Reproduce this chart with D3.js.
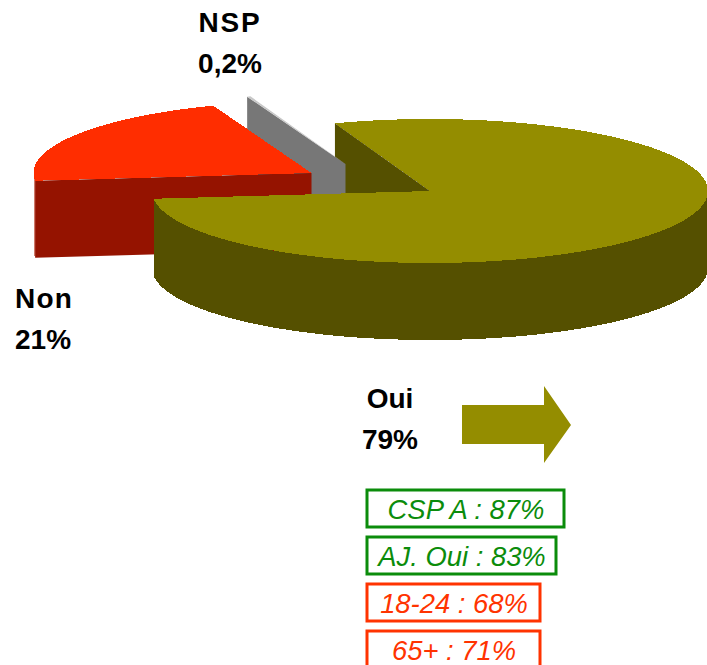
<!DOCTYPE html>
<html>
<head>
<meta charset="utf-8">
<script src="https://d3js.org/d3.v7.min.js"></script>
<style>
  body { margin: 0; background: #fff; overflow: hidden; }
  text { font-family: "Liberation Sans", Arial, sans-serif; }
</style>
</head>
<body>
<div id="chart"></div>
<script>
// data
var categories = ["Oui", "Non", "NSP"];
var shares = [79, 21, 0.2];
var shareLabels = ["79%", "21%", "0,2%"];
var detailLabels = ["CSP A : 87%", "AJ. Oui : 83%", "18-24 : 68%", "65+ : 71%"];
var detailKinds = ["up", "up", "down", "down"];

var width = 707, height = 665;

// pie layout
var rx = 278, ry = 72, depth = 77;
var toRad = Math.PI / 180;
var apex = {
  Oui: [430, 191],
  Non: [311.5, 173],
  NSP: [345.5, 164]
};
var topColor = { Oui: "#948d00", Non: "#ff2d00", NSP: "#c8c8c8" };
var sideColor = { Oui: "#555000", Non: "#951300", NSP: "#777777" };
var rimColor = { Oui: "#555000", Non: "#cf7a6a", NSP: "#777777" };
var labelPos = {
  Oui: { x: 390, y: 408, anchor: "middle", spacing: 0 },
  Non: { x: 15, y: 308, anchor: "start", spacing: 1.2 },
  NSP: { x: 230, y: 32, anchor: "middle", spacing: 1.8 }
};
var detailColor = { up: "#0b8c0b", down: "#ff3300" };
var detailWidths = [197, 189, 173, 173];

var svg = d3.select("#chart")
  .append("svg")
    .attr("width", width)
    .attr("height", height)
    .style("display", "block");

var slices = d3.pie()
  .sort(null)
  .value(function (d, i) { return shares[i]; })
  .startAngle(-20 * toRad)
  .endAngle(340 * toRad)(categories);

// angle on the pie -> point on the tilted ellipse
function rimPoint(name, a, dy) {
  return [apex[name][0] + rx * Math.sin(a), apex[name][1] - ry * Math.cos(a) + (dy || 0)];
}
function rimArc(name, a0, a1, dy) {
  var n = Math.max(2, Math.ceil(Math.abs(a1 - a0) / (toRad / 2)));
  return d3.range(n + 1).map(function (i) {
    return rimPoint(name, a0 + (a1 - a0) * i / n, dy);
  });
}
var line = d3.line();
function closed(points) { return line(points) + "Z"; }

function drawInnerWall(s) {
  var name = s.data, p = apex[name], r = rimPoint(name, s.startAngle);
  svg.append("path")
    .attr("d", closed([r, p, [p[0], p[1] + depth], [r[0], r[1] + depth]]))
    .attr("fill", sideColor[name]);
}
function drawOuterWall(s, color) {
  var name = s.data;
  // only the front half of the rim can be seen
  var a0 = Math.max(s.startAngle, 90 * toRad), a1 = Math.min(s.endAngle, 270 * toRad);
  if (a1 <= a0) return;
  svg.append("path")
    .attr("d", closed(rimArc(name, a0, a1).concat(rimArc(name, a1, a0, depth))))
    .attr("fill", color)
    .attr("shape-rendering", "crispEdges");
}
function drawTop(s) {
  var name = s.data;
  svg.append("path")
    .attr("d", closed([apex[name]].concat(rimArc(name, s.startAngle, s.endAngle))))
    .attr("fill", topColor[name])
    .attr("shape-rendering", s.data == "NSP" ? "auto" : "crispEdges");
}

var oui = slices[0], non = slices[1], nsp = slices[2];

// back to front
drawInnerWall(oui);
drawInnerWall(nsp);
drawTop(nsp);
drawOuterWall(non, rimColor.Non);
drawInnerWall(non);
drawTop(non);
drawOuterWall(oui, sideColor.Oui);
drawTop(oui);

// category labels
categories.forEach(function (c, i) {
  var t = svg.append("text")
    .attr("text-anchor", labelPos[c].anchor)
    .attr("font-size", 28)
    .attr("font-weight", "bold")
    .attr("fill", "#000");
  t.append("tspan")
    .attr("x", labelPos[c].x)
    .attr("y", labelPos[c].y)
    .attr("letter-spacing", labelPos[c].spacing)
    .text(c);
  t.append("tspan")
    .attr("x", labelPos[c].x)
    .attr("y", labelPos[c].y + 41)
    .text(shareLabels[i]);
});

// arrow pointing at the detail boxes
svg.append("path")
  .attr("d", closed([[462, 405], [544, 405], [544, 386], [571, 425], [544, 463], [544, 444], [462, 444]]))
  .attr("fill", topColor.Oui);

// detail boxes
var rowY = d3.scalePoint().domain(detailLabels).range([490, 631]);

var box = svg.selectAll("g.detail")
  .data(detailLabels)
  .enter()
  .append("g")
    .attr("class", "detail")
    .attr("transform", function (d) { return "translate(367," + rowY(d) + ")"; });

box.append("rect")
  .attr("width", function (d, i) { return detailWidths[i]; })
  .attr("height", 37)
  .attr("fill", "#fff")
  .attr("stroke", function (d, i) { return detailColor[detailKinds[i]]; })
  .attr("stroke-width", 3);

box.append("text")
  .attr("x", function (d, i) { return detailWidths[i] / 2 + 0.5; })
  .attr("y", 29)
  .attr("text-anchor", "middle")
  .attr("font-size", 27.4)
  .attr("font-style", "italic")
  .attr("fill", function (d, i) { return detailColor[detailKinds[i]]; })
  .text(function (d) { return d; });
</script>
</body>
</html>
